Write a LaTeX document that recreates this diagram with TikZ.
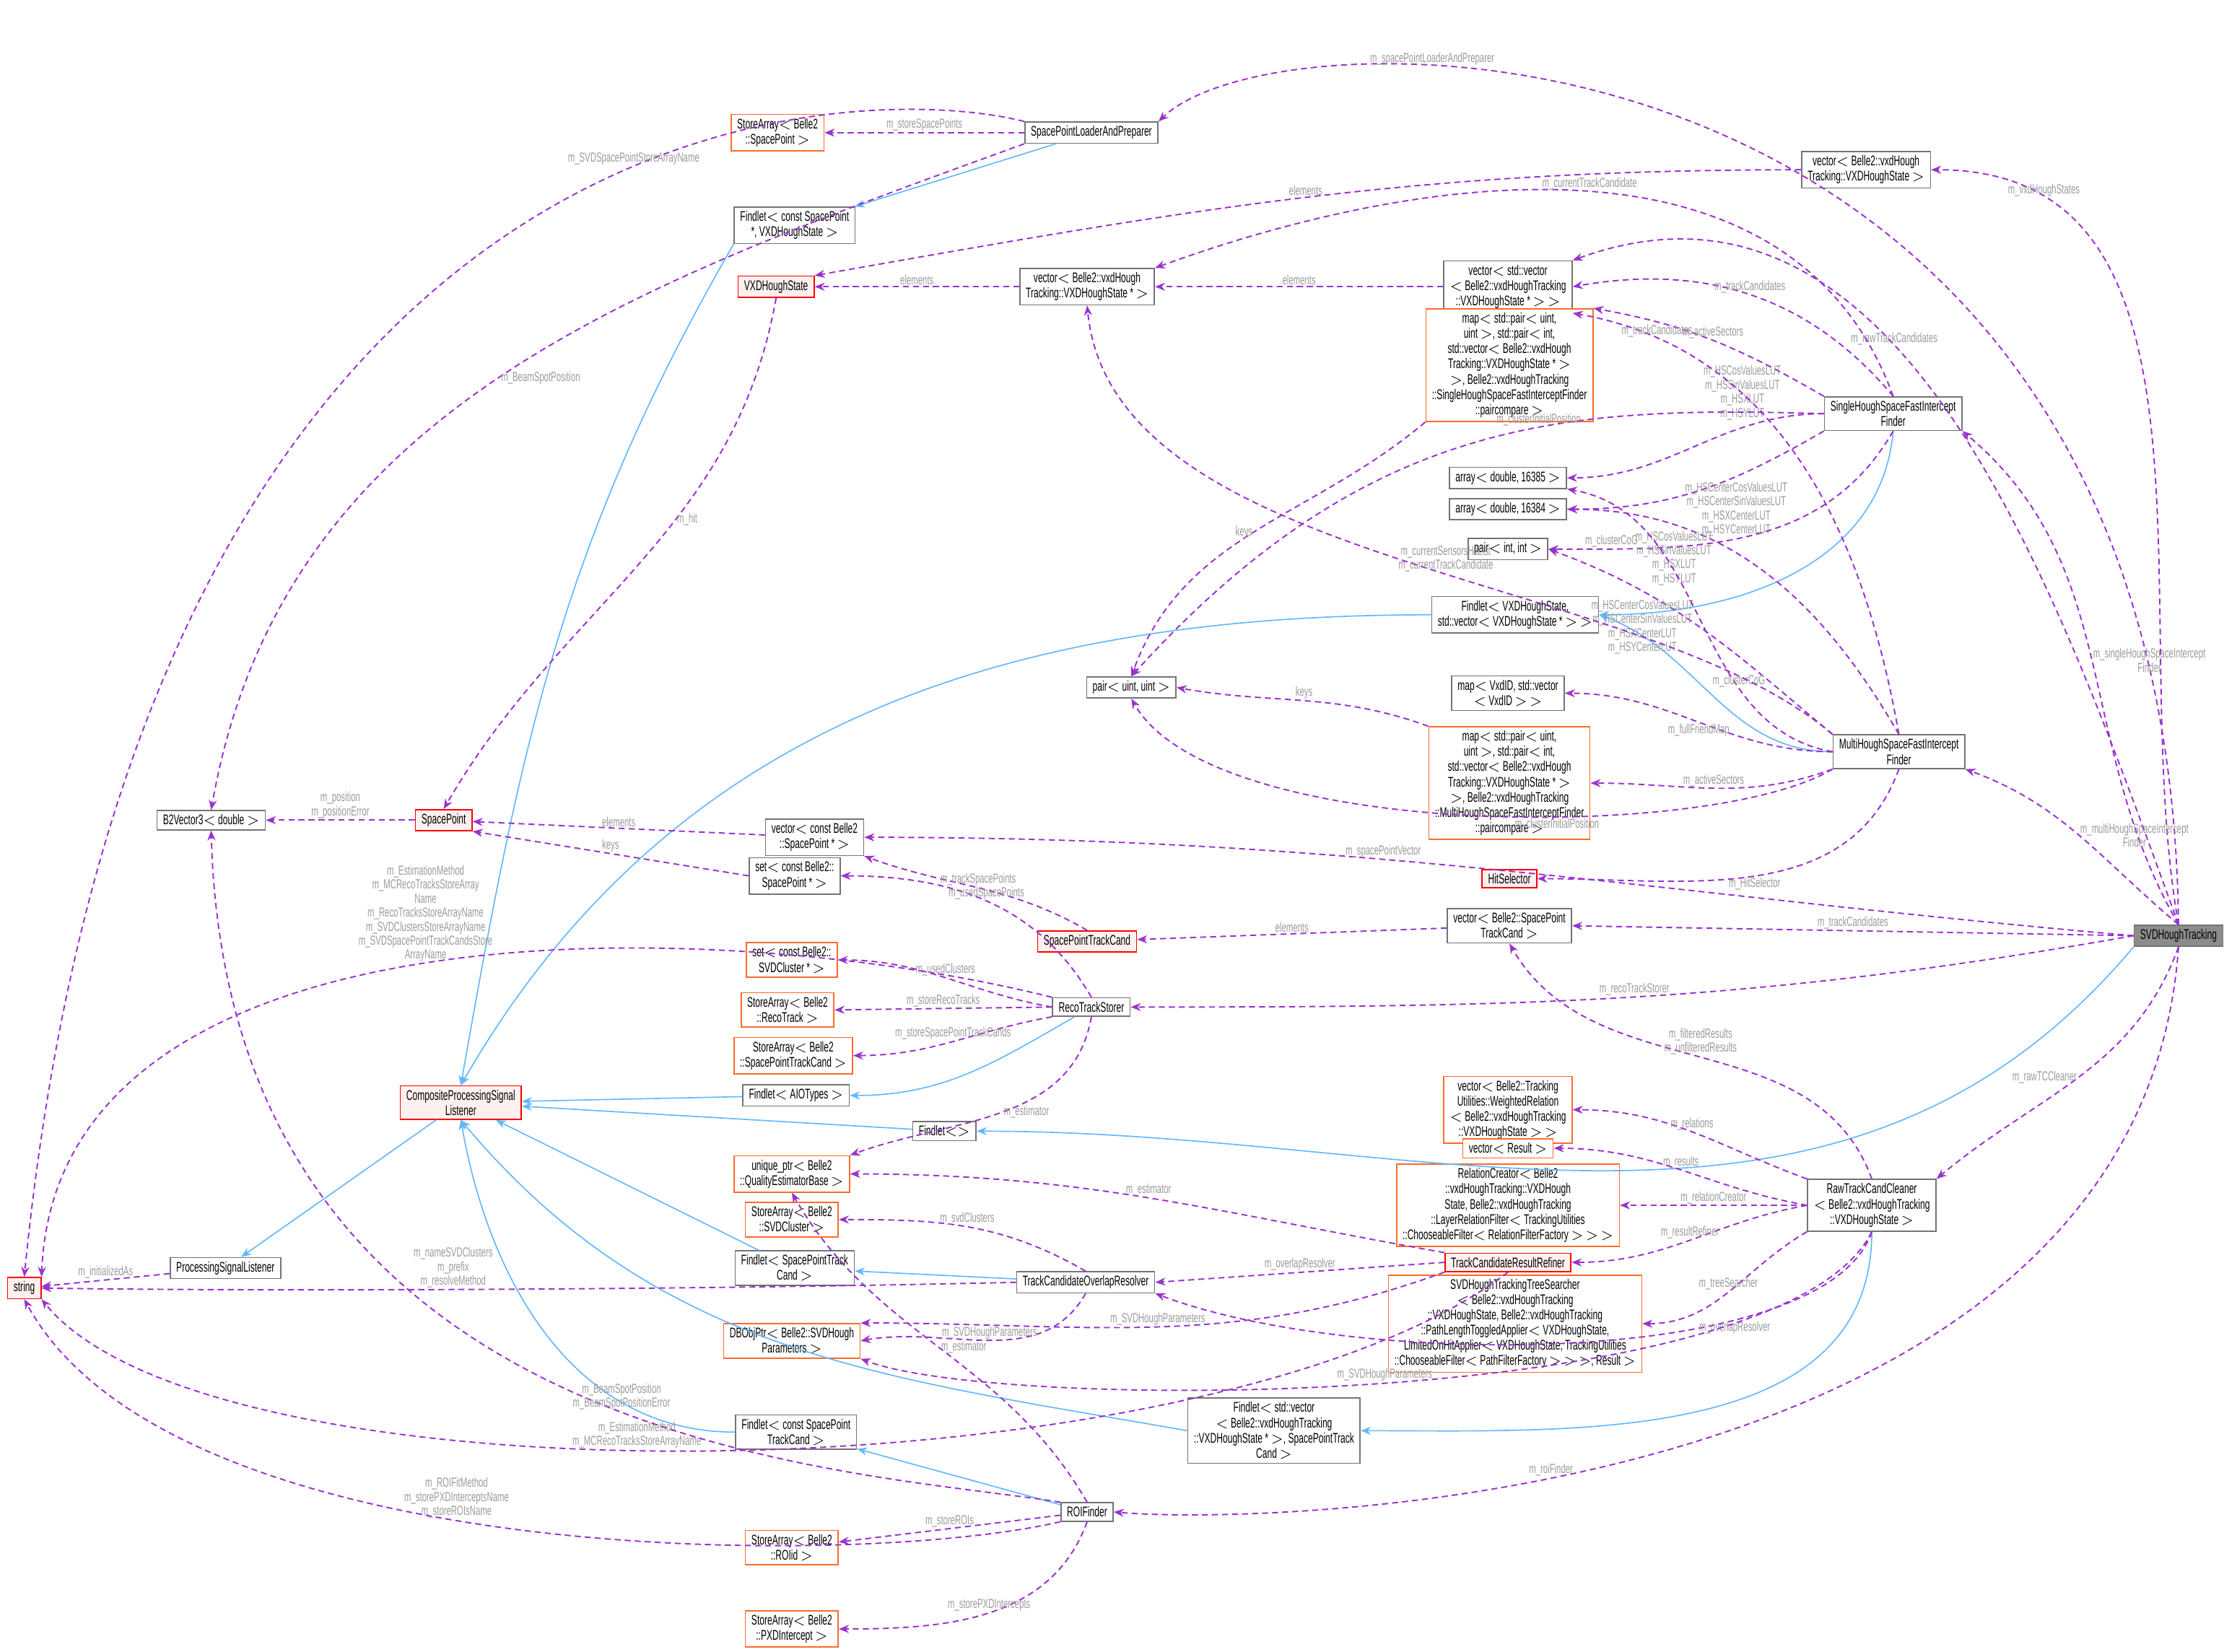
\documentclass[tikz,border=0pt]{standalone}
\usepackage{fontspec}
\newfontfamily\dxfont[FakeStretch=0.62]{Liberation Sans}
\usetikzlibrary{positioning,arrows.meta,calc}
\definecolor{memline}{HTML}{9A32CD}
\definecolor{inhline}{HTML}{63B8FF}
\definecolor{redbox}{HTML}{FF0000}
\definecolor{orbox}{HTML}{FF6A2A}
\definecolor{pinkfill}{HTML}{FFF0F0}
\definecolor{lblgrey}{HTML}{9A9A9A}
\begin{document}
\begin{tikzpicture}[
  x=0.025cm, y=0.025cm,
  cls/.style={
    draw=black!55,
    fill=white,
    shape=rectangle,
    align=center,
    inner xsep=3pt,
    inner ysep=2pt,
    line width=0.6pt,
    font=\dxfont\fontsize{7}{7.6}\selectfont,
  },
  bad/.style={cls, draw=redbox, fill=pinkfill},
  tmpl/.style={cls, draw=orbox},
  self/.style={cls, fill=black!45},
  mem/.style={
    line width=0.7pt,
    dash pattern=on 3pt off 2pt,
    draw=memline,
    -{Stealth[length=5pt,width=4pt]},
  },
  inh/.style={
    line width=0.6pt,
    draw=inhline,
    -{Stealth[length=5pt,width=4pt]},
  },
  lbl/.style={
    text=lblgrey,
    align=center,
    inner sep=0.5pt,
    font=\dxfont\fontsize{6.6}{7}\selectfont,
  }]
  \useasboundingbox (0,0) rectangle (1568,-1158);
  % classes
  \node[self] (SVD) at (1527,-656) {SVDHoughTracking};
  \node[bad] (STR) at (17,-903) {string};
  \node[cls] (B2V) at (148,-575) {B2Vector3$<$ double $>$};
  \node[bad] (SPT) at (311,-575) {SpacePoint};
  \node[bad] (CPSL) at (323,-773) {CompositeProcessingSignal\\Listener};
  \node[cls] (PSL) at (158,-889) {ProcessingSignalListener};
  \node[cls] (LOAD) at (765,-93) {SpacePointLoaderAndPreparer};
  \node[tmpl] (SASP) at (545,-93) {StoreArray$<$ Belle2\\::SpacePoint $>$};
  \node[cls] (FLSP) at (557,-158) {Findlet$<$ const SpacePoint\\ *, VXDHoughState $>$};
  \node[bad] (VXD) at (544,-201) {VXDHoughState};
  \node[cls] (VVXDP) at (762,-201) {vector$<$ Belle2::vxdHough\\Tracking::VXDHoughState * $>$};
  \node[cls] (VVXD) at (1308,-119) {vector$<$ Belle2::vxdHough\\Tracking::VXDHoughState $>$};
  \node[cls] (VVV) at (1057,-201) {vector$<$ std::vector\\$<$ Belle2::vxdHoughTracking\\::VXDHoughState * $>$ $>$};
  \node[tmpl] (MAPS) at (1058,-256) {map$<$ std::pair$<$ uint,\\ uint $>$, std::pair$<$ int,\\ std::vector$<$ Belle2::vxdHough\\Tracking::VXDHoughState * $>$\\ $>$, Belle2::vxdHoughTracking\\::SingleHoughSpaceFastInterceptFinder\\::paircompare $>$};
  \node[cls] (SHS) at (1327,-290) {SingleHoughSpaceFastIntercept\\Finder};
  \node[cls] (A85) at (1057,-335) {array$<$ double, 16385 $>$};
  \node[cls] (A84) at (1057,-357) {array$<$ double, 16384 $>$};
  \node[cls] (PII) at (1057,-385) {pair$<$ int, int $>$};
  \node[cls] (FLVX) at (1062,-431) {Findlet$<$ VXDHoughState,\\ std::vector$<$ VXDHoughState * $>$ $>$};
  \node[cls] (PUU) at (793,-482) {pair$<$ uint, uint $>$};
  \node[cls] (MVX) at (1057,-486) {map$<$ VxdID, std::vector\\$<$ VxdID $>$ $>$};
  \node[tmpl] (MAPM) at (1058,-549) {map$<$ std::pair$<$ uint,\\ uint $>$, std::pair$<$ int,\\ std::vector$<$ Belle2::vxdHough\\Tracking::VXDHoughState * $>$\\ $>$, Belle2::vxdHoughTracking\\::MultiHoughSpaceFastInterceptFinder\\::paircompare $>$};
  \node[cls] (MHS) at (1331,-527) {MultiHoughSpaceFastIntercept\\Finder};
  \node[bad] (HSEL) at (1058,-616) {HitSelector};
  \node[cls] (VCSP) at (571,-587) {vector$<$ const Belle2\\::SpacePoint * $>$};
  \node[cls] (SCSP) at (557,-614) {set$<$ const Belle2::\\SpacePoint * $>$};
  \node[bad] (SPTC) at (762,-660) {SpacePointTrackCand};
  \node[cls] (VSPTC) at (1058,-649) {vector$<$ Belle2::SpacePoint\\TrackCand $>$};
  \node[tmpl] (SSVD) at (555,-673) {set$<$ const Belle2::\\SVDCluster * $>$};
  \node[tmpl] (SART) at (552,-708) {StoreArray$<$ Belle2\\::RecoTrack $>$};
  \node[tmpl] (SASPTC) at (556,-740) {StoreArray$<$ Belle2\\::SpacePointTrackCand $>$};
  \node[cls] (RTS) at (765,-706) {RecoTrackStorer};
  \node[cls] (FLAIO) at (558,-768) {Findlet$<$ AIOTypes $>$};
  \node[cls] (FLE) at (662,-793) {Findlet$<$$>$};
  \node[tmpl] (UQE) at (555,-823) {unique\_ptr$<$ Belle2\\::QualityEstimatorBase $>$};
  \node[tmpl] (SASVD) at (555,-855) {StoreArray$<$ Belle2\\::SVDCluster $>$};
  \node[cls] (FLSPTC) at (557,-889) {Findlet$<$ SpacePointTrack\\Cand $>$};
  \node[cls] (TCOR) at (761,-899) {TrackCandidateOverlapResolver};
  \node[tmpl] (DBP) at (555,-940) {DBObjPtr$<$ Belle2::SVDHough\\Parameters $>$};
  \node[tmpl] (VWR) at (1057,-778) {vector$<$ Belle2::Tracking\\Utilities::WeightedRelation\\$<$ Belle2::vxdHoughTracking\\::VXDHoughState $>$ $>$};
  \node[tmpl] (VRES) at (1057,-805) {vector$<$ Result $>$};
  \node[tmpl] (RCR) at (1057,-845) {RelationCreator$<$ Belle2\\::vxdHoughTracking::VXDHough\\State, Belle2::vxdHoughTracking\\::LayerRelationFilter$<$ TrackingUtilities\\::ChooseableFilter$<$ RelationFilterFactory $>$ $>$ $>$};
  \node[bad] (TCRR) at (1057,-885) {TrackCandidateResultRefiner};
  \node[tmpl] (TSR) at (1062,-928) {SVDHoughTrackingTreeSearcher\\$<$ Belle2::vxdHoughTracking\\::VXDHoughState, Belle2::vxdHoughTracking\\::PathLengthToggledApplier$<$ VXDHoughState,\\ LimitedOnHitApplier$<$ VXDHoughState, TrackingUtilities\\::ChooseableFilter$<$ PathFilterFactory $>$ $>$ $>$, Result $>$};
  \node[cls] (RTCC) at (1312,-845) {RawTrackCandCleaner\\$<$ Belle2::vxdHoughTracking\\::VXDHoughState $>$};
  \node[cls] (FLCSP) at (558,-1004) {Findlet$<$ const SpacePoint\\TrackCand $>$};
  \node[cls] (FLSV) at (893,-1003) {Findlet$<$ std::vector\\$<$ Belle2::vxdHoughTracking\\::VXDHoughState * $>$, SpacePointTrack\\Cand $>$};
  \node[cls] (ROI) at (762,-1060) {ROIFinder};
  \node[tmpl] (SAROI) at (555,-1085) {StoreArray$<$ Belle2\\::ROIid $>$};
  \node[tmpl] (SAPXD) at (555,-1142) {StoreArray$<$ Belle2\\::PXDIntercept $>$};
  % inheritance
  \draw[inh] (LOAD) -- (FLSP);
  \draw[inh] (FLSP.south west) to[out=-120,in=80] (CPSL.north);
  \draw[inh] (SHS.south) to[out=-95,in=0] (FLVX.east);
  \draw[inh] (MHS.west) to[out=180,in=-20] (FLVX.east);
  \draw[inh] (FLVX.west) to[out=180,in=60] (CPSL.north);
  \draw[inh] (RTS) to[out=-150,in=0] (FLAIO);
  \draw[inh] (FLAIO) -- (CPSL);
  \draw[inh] (SVD.south west) to[out=-130,in=0] (FLE.east);
  \draw[inh] (FLE) -- (CPSL);
  \draw[inh] (CPSL) -- (PSL);
  \draw[inh] (TCOR) -- (FLSPTC);
  \draw[inh] (FLSPTC) -- (CPSL);
  \draw[inh] (RTCC.south) to[out=-90,in=0] (FLSV.east);
  \draw[inh] (FLSV.west) to[out=170,in=-50] (CPSL.south);
  \draw[inh] (ROI) -- (FLCSP);
  \draw[inh] (FLCSP.west) to[out=180,in=-80] (CPSL.south);
  % members of SVDHoughTracking
  \draw[mem] (SVD.north) .. controls (1520,0) and (900,0) .. node[lbl,pos=.7,above]{m\_spacePointLoaderAndPreparer} (LOAD.north east);
  \draw[mem] (SVD.north) to[out=100,in=0] node[lbl,pos=.85,above]{m\_vxdHoughStates} (VVXD.east);
  \draw[mem] (SVD.north) to[out=110,in=20] node[lbl,pos=.6,above]{m\_rawTrackCandidates} (VVV.north east);
  \draw[mem] (SVD.north) to[out=120,in=-40] node[lbl,pos=.5,right]{m\_singleHoughSpaceIntercept\\Finder} (SHS.south east);
  \draw[mem] (SVD.north) to[out=140,in=-20] node[lbl,pos=.5,right]{m\_multiHoughSpaceIntercept\\Finder} (MHS.south east);
  \draw[mem] (SVD.west) to[out=175,in=0] node[lbl,pos=.6,above]{m\_spacePointVector} (VCSP.east);
  \draw[mem] (SVD.west) -- node[lbl,pos=.5,above]{m\_trackCandidates} (VSPTC.east);
  \draw[mem] (SVD.west) to[out=190,in=0] node[lbl,pos=.5,above]{m\_recoTrackStorer} (RTS.east);
  \draw[mem] (SVD.south) to[out=-110,in=40] node[lbl,pos=.5,left]{m\_rawTCCleaner} (RTCC.north east);
  \draw[mem] (SVD.south) .. controls (1500,-1050) and (900,-1070) .. node[lbl,pos=.6,above]{m\_roiFinder} (ROI.east);
  % SpacePointLoaderAndPreparer
  \draw[mem] (LOAD.north west) .. controls (600,-55) and (100,-60) .. node[lbl,pos=.4,above]{m\_SVDSpacePointStoreArrayName} (STR.north);
  \draw[mem] (LOAD) -- node[lbl,above]{m\_storeSpacePoints} (SASP);
  \draw[mem] (LOAD.south west) to[out=-160,in=80] node[lbl,pos=.5,right]{m\_BeamSpotPosition} (B2V.north);
  % containers of states
  \draw[mem] (VVXD.west) to[out=180,in=10] node[lbl,pos=.5,above]{elements} (VXD.north east);
  \draw[mem] (VVXDP) -- node[lbl,above]{elements} (VXD);
  \draw[mem] (VVV) -- node[lbl,above]{elements} (VVXDP);
  \draw[mem] (VXD.south) to[out=-100,in=60] node[lbl,pos=.4,right]{m\_hit} (SPT.north);
  % SingleHoughSpaceFastInterceptFinder
  \draw[mem] (SHS.north) to[out=110,in=20] node[lbl,pos=.5,above]{m\_currentTrackCandidate} (VVXDP.north east);
  \draw[mem] (SHS.north) to[out=130,in=10] node[lbl,pos=.5,above]{m\_trackCandidates} (VVV.east);
  \draw[mem] (SHS.north west) to[out=150,in=-10] node[lbl,pos=.5,above]{m\_activeSectors} (MAPS.north east);
  \draw[mem] (SHS.west) to[out=180,in=0] node[lbl,pos=.3,above=3pt]{m\_HSCosValuesLUT\\m\_HSSinValuesLUT\\m\_HSXLUT\\m\_HSYLUT} (A85.east);
  \draw[mem] (SHS.south west) to[out=-150,in=0] node[lbl,pos=.35,below=2pt]{m\_HSCenterCosValuesLUT\\m\_HSCenterSinValuesLUT\\m\_HSXCenterLUT\\m\_HSYCenterLUT} (A84.east);
  \draw[mem] (SHS.south) to[out=-120,in=0] node[lbl,pos=.85,above]{m\_clusterCoG} (PII.east);
  \draw[mem] (SHS.west) .. controls (1100,-285) and (960,-290) .. node[lbl,pos=.4,above]{m\_clusterInitialPosition} (PUU.north);
  \draw[mem] (MAPS.south west) to[out=-140,in=70] node[lbl,pos=.5,left]{keys} (PUU.north);
  % MultiHoughSpaceFastInterceptFinder
  \draw[mem] (MHS.north) to[out=100,in=-10] node[lbl,pos=.85,above]{m\_trackCandidates} (VVV.south east);
  \draw[mem] (MHS.north) to[out=120,in=0] node[lbl,pos=.75,below=2pt]{m\_HSCosValuesLUT\\m\_HSSinValuesLUT\\m\_HSXLUT\\m\_HSYLUT} (A84.east);
  \draw[mem] (MHS.north west) to[out=140,in=-20] node[lbl,pos=.5,left=2pt]{m\_HSCenterCosValuesLUT\\m\_HSCenterSinValuesLUT\\m\_HSXCenterLUT\\m\_HSYCenterLUT} (PII.east);
  \draw[mem] (MHS.west) to[out=170,in=-10] node[lbl,pos=.3,above]{m\_clusterCoG} (A85.south east);
  \draw[mem] (MHS.west) to[out=180,in=0] node[lbl,pos=.5,below]{m\_fullFriendMap} (MVX.east);
  \draw[mem] (MHS.south west) to[out=-160,in=0] node[lbl,pos=.5,above]{m\_activeSectors} (MAPM.east);
  \draw[mem] (MHS.south west) .. controls (1200,-590) and (850,-590) .. node[lbl,pos=.4,below]{m\_clusterInitialPosition} (PUU.south);
  \draw[mem] (MHS.north west) .. controls (1150,-400) and (780,-400) .. node[lbl,pos=.45,above]{m\_currentSensorsHitList\\m\_currentTrackCandidate} (VVXDP.south);
  \draw[mem] (MHS.south) to[out=-110,in=0] node[lbl,pos=.5,below]{m\_HitSelector} (HSEL.east);
  \draw[mem] (MAPM.north west) to[out=160,in=-10] node[lbl,pos=.5,above]{keys} (PUU.east);
  % space points
  \draw[mem] (SPT) -- node[lbl,above]{m\_position\\m\_positionError} (B2V);
  \draw[mem] (VCSP) -- node[lbl,above]{elements} (SPT);
  \draw[mem] (SCSP.west) -- node[lbl,above]{keys} (SPT.south east);
  \draw[mem] (SPTC.north) to[out=150,in=-20] node[lbl,pos=.5,above]{m\_trackSpacePoints} (VCSP.south east);
  \draw[mem] (VSPTC) -- node[lbl,above]{elements} (SPTC);
  % RecoTrackStorer
  \draw[mem] (RTS.north west) .. controls (500,-640) and (40,-630) .. node[lbl,pos=.5,above]{m\_EstimationMethod\\m\_MCRecoTracksStoreArray\\Name\\m\_RecoTracksStoreArrayName\\m\_SVDClustersStoreArrayName\\m\_SVDSpacePointTrackCandsStore\\ArrayName} (STR.north east);
  \draw[mem] (RTS.north) to[out=120,in=0] node[lbl,pos=.5,above]{m\_usedSpacePoints} (SCSP.east);
  \draw[mem] (RTS.west) to[out=170,in=0] node[lbl,pos=.5,above]{m\_usedClusters} (SSVD.east);
  \draw[mem] (RTS.west) -- node[lbl,pos=.5,above]{m\_storeRecoTracks} (SART.east);
  \draw[mem] (RTS.south west) to[out=-170,in=0] node[lbl,pos=.5,above]{m\_storeSpacePointTrackCands} (SASPTC.east);
  \draw[mem] (RTS.south) to[out=-100,in=20] node[lbl,pos=.5,right]{m\_estimator} (UQE.north east);
  \draw[mem] (PSL) -- node[lbl,above]{m\_initializedAs} (STR);
  % TrackCandidateOverlapResolver
  \draw[mem] (TCOR.west) .. controls (450,-905) and (150,-905) .. node[lbl,pos=.5,above]{m\_nameSVDClusters\\m\_prefix\\m\_resolveMethod} (STR.east);
  \draw[mem] (TCOR.north) to[out=150,in=0] node[lbl,pos=.5,above]{m\_svdClusters} (SASVD.east);
  \draw[mem] (TCOR.south) to[out=-120,in=10] node[lbl,pos=.5,above]{m\_SVDHoughParameters} (DBP.east);
  % TrackCandidateResultRefiner
  \draw[mem] (TCRR.north west) to[out=170,in=0] node[lbl,pos=.5,above]{m\_estimator} (UQE.east);
  \draw[mem] (TCRR.west) -- node[lbl,pos=.5,above]{m\_overlapResolver} (TCOR.east);
  \draw[mem] (TCRR.south west) to[out=-160,in=0] node[lbl,pos=.5,above]{m\_SVDHoughParameters} (DBP.north east);
  \draw[mem] (TCRR.south) .. controls (850,-1050) and (150,-1060) .. node[lbl,pos=.55,above]{m\_EstimationMethod\\m\_MCRecoTracksStoreArrayName} (STR.south east);
  % RawTrackCandCleaner
  \draw[mem] (RTCC.north west) to[out=160,in=0] node[lbl,pos=.5,above]{m\_relations} (VWR.east);
  \draw[mem] (RTCC.west) to[out=170,in=0] node[lbl,pos=.5,above]{m\_results} (VRES.east);
  \draw[mem] (RTCC.west) -- node[lbl,pos=.5,above]{m\_relationCreator} (RCR.east);
  \draw[mem] (RTCC.west) to[out=-170,in=0] node[lbl,pos=.5,above]{m\_resultRefiner} (TCRR.east);
  \draw[mem] (RTCC.south west) to[out=-150,in=0] node[lbl,pos=.5,above]{m\_treeSearcher} (TSR.east);
  \draw[mem] (RTCC.north) to[out=110,in=-60] node[lbl,pos=.5,above]{m\_filteredResults\\m\_unfilteredResults} (VSPTC.south);
  \draw[mem] (RTCC.south) .. controls (1280,-960) and (950,-960) .. node[lbl,pos=.3,below]{m\_overlapResolver} (TCOR.south east);
  \draw[mem] (RTCC.south) .. controls (1250,-990) and (700,-990) .. node[lbl,pos=.5,above]{m\_SVDHoughParameters} (DBP.south east);
  % ROIFinder
  \draw[mem] (ROI.north west) .. controls (600,-1030) and (160,-1020) .. node[lbl,pos=.45,above]{m\_BeamSpotPosition\\m\_BeamSpotPositionError} (B2V.south);
  \draw[mem] (ROI.south west) .. controls (600,-1100) and (120,-1100) .. node[lbl,pos=.55,above]{m\_ROIFitMethod\\m\_storePXDInterceptsName\\m\_storeROIsName} (STR.south);
  \draw[mem] (ROI) -- node[lbl,above]{m\_storeROIs} (SAROI);
  \draw[mem] (ROI.south) to[out=-110,in=0] node[lbl,pos=.5,above]{m\_storePXDIntercepts} (SAPXD.east);
  \draw[mem] (ROI.north) to[out=120,in=-60] node[lbl,pos=.5,right]{m\_estimator} (UQE.south);
\end{tikzpicture}
\end{document}
